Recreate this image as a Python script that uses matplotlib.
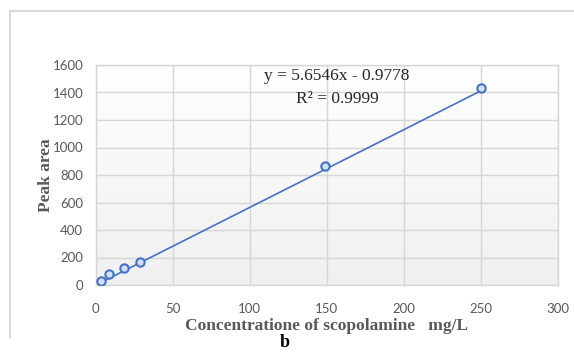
import numpy as np
import matplotlib
matplotlib.use("Agg")
import matplotlib.pyplot as plt
from matplotlib.lines import Line2D
from matplotlib.colors import LinearSegmentedColormap

# Data
concentration = [3.3, 8.7, 18.4, 28.7, 149, 250]
peak_area = [31, 78, 121, 167, 865, 1430]
slope = 5.6546
intercept = -0.9778
r_squared = 0.9999
x_ticks = [0, 50, 100, 150, 200, 250, 300]
y_ticks = [0, 200, 400, 600, 800, 1000, 1200, 1400, 1600]

fig = plt.figure(figsize=(5.74, 3.53), dpi=100)
fig.patch.set_facecolor("white")

ax = fig.add_axes([95.7/574, 1-285/353, (558-95.7)/574, (285-65)/353])

# gradient plot-area background
grad = np.linspace(0, 1, 256).reshape(-1, 1)
cmap = LinearSegmentedColormap.from_list("g", ["#ffffff", "#f0f0f0"])
ax.imshow(grad, aspect="auto", cmap=cmap, extent=[0, 1, 0, 1],
          transform=ax.transAxes, zorder=0, interpolation="bilinear")

ax.set_xlim(0, 300)
ax.set_ylim(0, 1600)
ax.set_xticks(x_ticks)
ax.set_yticks(y_ticks)
ax.grid(True, color="#d6d6d6", linewidth=1.0, zorder=1)
for s in ax.spines.values():
    s.set_visible(True)
    s.set_color("#d6d6d6")
    s.set_linewidth(1.0)
ax.tick_params(axis="x", length=0, labelsize=9.5, labelcolor="#595959", pad=13)
ax.tick_params(axis="y", length=0, labelsize=9.5, labelcolor="#595959", pad=9)
for lab in ax.get_xticklabels() + ax.get_yticklabels():
    lab.set_family("Lato")

# trendline from the regression coefficients
xs = np.array([min(concentration), max(concentration)])
ax.plot(xs, slope*xs + intercept, color="#4472C4", linewidth=1.2, zorder=3)
ax.plot(concentration, peak_area, linestyle="none", marker="o", markersize=6,
        markerfacecolor="#d3e0f4", markeredgecolor="#4472C4", markeredgewidth=1.5, zorder=4)

ax.set_xlabel("Concentratione of scopolamine   mg/L", family="Liberation Serif",
              fontweight="bold", fontsize=12.5, color="#595959", labelpad=2)
ax.set_ylabel("Peak area", family="Liberation Serif", fontweight="bold",
              fontsize=12.5, color="#595959", labelpad=-1)

fig.text(337/574, 1-76/353, f"y = {slope}x - {abs(intercept)}", family="Liberation Serif",
         fontsize=12.5, color="#262626", ha="center", va="center")
fig.text(337/574, 1-99/353, f"R² = {r_squared}", family="Liberation Serif",
         fontsize=12.5, color="#262626", ha="center", va="center")

fig.text(285/574, 2/353, "b", family="Liberation Serif", fontweight="bold",
         fontsize=13, color="black", ha="center", va="bottom")

# chart-area border (top and left)
fig.add_artist(Line2D([10/574, 1.0], [1-11/353, 1-11/353], color="#d9d9d9", linewidth=1.5,
                      transform=fig.transFigure))
fig.add_artist(Line2D([10/574, 10/574], [1-11/353, 1-337/353], color="#d9d9d9", linewidth=1.5,
                      transform=fig.transFigure))

fig.savefig("out.png", dpi=100)
